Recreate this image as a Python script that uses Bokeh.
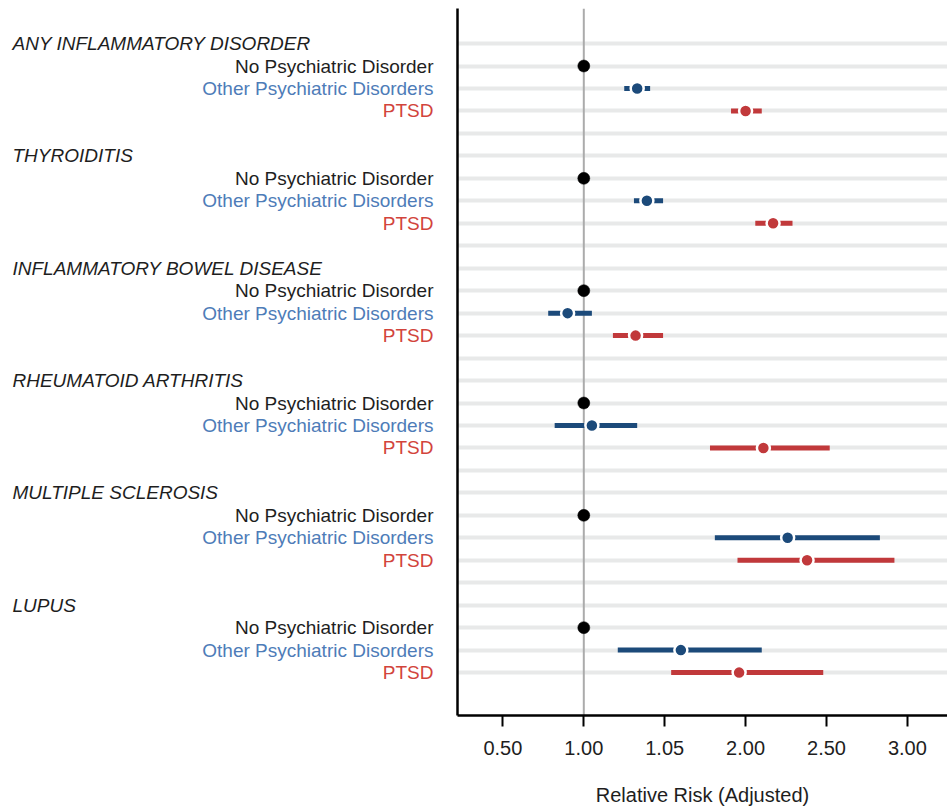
from bokeh.plotting import figure
from bokeh.layouts import row
from bokeh.models import Range1d, FixedTicker, Span, ColumnDataSource
from bokeh.core.properties import value
from bokeh.embed import file_html
from bokeh.resources import INLINE

# ---------------- data ----------------
groups = ["ANY INFLAMMATORY DISORDER", "THYROIDITIS", "INFLAMMATORY BOWEL DISEASE",
          "RHEUMATOID ARTHRITIS", "MULTIPLE SCLEROSIS", "LUPUS"]
categories = ["No Psychiatric Disorder", "Other Psychiatric Disorders", "PTSD"]

none_rr = [1.00, 1.00, 1.00, 1.00, 1.00, 1.00]

other_rr = [1.33, 1.39, 0.90, 1.05, 2.26, 1.60]
other_lo = [1.25, 1.31, 0.78, 0.82, 1.81, 1.21]
other_hi = [1.41, 1.49, 1.05, 1.33, 2.83, 2.10]

ptsd_rr = [2.00, 2.17, 1.32, 2.11, 2.38, 1.96]
ptsd_lo = [1.91, 2.06, 1.18, 1.78, 1.95, 1.54]
ptsd_hi = [2.10, 2.29, 1.49, 2.52, 2.92, 2.48]

tick_values = [0.5, 1.0, 1.5, 2.0, 2.5, 3.0]
tick_labels = ["0.50", "1.00", "1.05", "2.00", "2.50", "3.00"]

x_title = "Relative Risk (Adjusted)"

# ---------------- layout helpers ----------------
ROWS_PER_GROUP = 5
header_rows = [ROWS_PER_GROUP * g for g in range(len(groups))]
none_rows = [r + 1 for r in header_rows]
other_rows = [r + 2 for r in header_rows]
ptsd_rows = [r + 3 for r in header_rows]
all_rows = sorted(header_rows + none_rows + other_rows + ptsd_rows +
                  [r + 4 for r in header_rows[:-1]])

FONT = "Liberation Sans"
BLUE = "#1c4a7a"
RED = "#c1393b"
BLUE_TXT = "#4e7cb8"
RED_TXT = "#d2443c"
TXT = "#1e1e1e"

H = 812
TOP = 8
BOTTOM = 97
LEFT_W = 437
AX_PAD = 20
FRAME_W = 490

yr = Range1d(29.91, -1.56)

# ---------------- left label panel ----------------
lab = figure(width=LEFT_W, height=H, output_backend="svg", toolbar_location=None,
             x_range=Range1d(0, LEFT_W), y_range=yr,
             x_axis_location=None, y_axis_location=None,
             min_border_left=0, min_border_right=0, min_border_top=TOP,
             min_border_bottom=BOTTOM)
lab.outline_line_color = None
lab.grid.visible = False

lab.text(x=[12] * len(groups), y=header_rows, text=groups,
         text_align="left", text_baseline="middle", text_font=value(FONT),
         text_font_size="19px", text_font_style="italic", text_color=TXT)

sub_y, sub_t, sub_c = [], [], []
for g in range(len(groups)):
    for k, (rows_, col) in enumerate(zip((none_rows, other_rows, ptsd_rows),
                                         (TXT, BLUE_TXT, RED_TXT))):
        sub_y.append(rows_[g])
        sub_t.append(categories[k])
        sub_c.append(col)
sub_src = ColumnDataSource(dict(x=[433] * len(sub_y), y=sub_y, t=sub_t, c=sub_c))
lab.text(x="x", y="y", text="t", source=sub_src, text_align="right",
         text_baseline="middle", text_font=value(FONT), text_font_size="19px",
         text_color="c")

# ---------------- forest plot ----------------
p = figure(width=FRAME_W + AX_PAD, height=H, output_backend="svg",
           toolbar_location=None,
           x_range=Range1d(0.2194, 3.248), y_range=yr,
           min_border_left=AX_PAD, min_border_right=0, min_border_top=TOP,
           min_border_bottom=BOTTOM)
p.outline_line_color = None

p.yaxis.ticker = FixedTicker(ticks=[])
p.yaxis.major_tick_line_color = None
p.yaxis.minor_tick_line_color = None
p.yaxis.axis_line_color = "black"
p.yaxis.axis_line_width = 2.5
p.ygrid.ticker = FixedTicker(ticks=all_rows)
p.ygrid.grid_line_color = "#e8e9e9"
p.ygrid.grid_line_width = 4
p.xgrid.grid_line_color = None

p.xaxis.ticker = FixedTicker(ticks=tick_values)
p.xaxis.major_label_overrides = {v: t for v, t in zip(tick_values, tick_labels)}
p.xaxis.minor_tick_line_color = None
p.xaxis.major_tick_in = 0
p.xaxis.major_tick_out = 11
p.xaxis.major_tick_line_width = 2
p.xaxis.major_tick_line_color = "black"
p.xaxis.axis_line_color = "black"
p.xaxis.axis_line_width = 2.5
p.xaxis.major_label_text_font = FONT
p.xaxis.major_label_text_font_size = "20px"
p.xaxis.major_label_text_color = TXT
p.xaxis.major_label_standoff = 14
p.xaxis.axis_label = x_title
p.xaxis.axis_label_text_font = FONT
p.xaxis.axis_label_text_font_size = "20px"
p.xaxis.axis_label_text_font_style = "normal"
p.xaxis.axis_label_text_color = TXT
p.xaxis.axis_label_standoff = 26

p.add_layout(Span(location=1.0, dimension="height", line_color="#ababab",
                  line_width=2, level="underlay"))

p.segment(x0=other_lo, x1=other_hi, y0=other_rows, y1=other_rows,
          line_color=BLUE, line_width=5)
p.segment(x0=ptsd_lo, x1=ptsd_hi, y0=ptsd_rows, y1=ptsd_rows,
          line_color=RED, line_width=5)

p.scatter(x=none_rr, y=none_rows, size=12, fill_color="black", line_color="black",
          line_width=0.5)
p.scatter(x=other_rr, y=other_rows, size=13, fill_color=BLUE, line_color="white",
          line_width=2.5)
p.scatter(x=ptsd_rr, y=ptsd_rows, size=13, fill_color=RED, line_color="white",
          line_width=2.5)

layout = row(lab, p, spacing=0)
open("out.html", "w").write(file_html(layout, INLINE))
